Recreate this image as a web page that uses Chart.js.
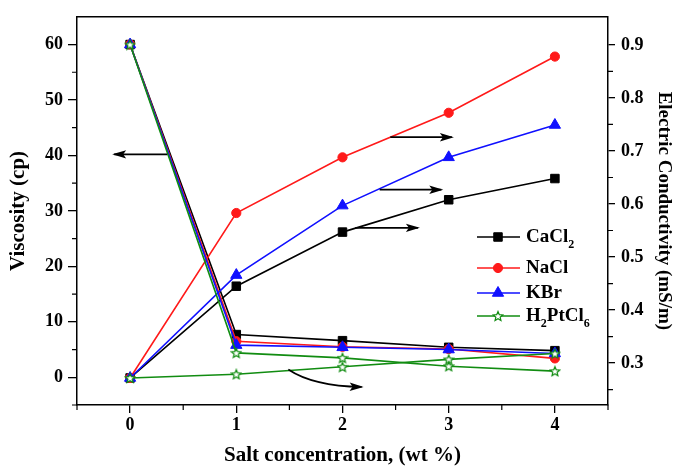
<!DOCTYPE html>
<html>
<head>
<meta charset="utf-8">
<script src="https://cdn.jsdelivr.net/npm/chart.js@4"></script>
<style>
html, body { margin: 0; padding: 0; background: #fff; }
</style>
</head>
<body>
<canvas id="canvas" width="675" height="468"></canvas>
<script>
// data
var concentration = [0, 1, 2, 3, 4];
var viscCaCl2 = [60, 7.7, 6.6, 5.4, 4.8];
var viscNaCl = [60, 6.5, 5.5, 5.1, 3.4];
var viscKBr = [60, 5.8, 5.4, 5.0, 4.3];
var viscH2PtCl6 = [60, 4.4, 3.5, 2.0, 1.1];
var condCaCl2 = [0.272, 0.445, 0.547, 0.608, 0.648];
var condNaCl = [0.272, 0.583, 0.688, 0.772, 0.878];
var condKBr = [0.272, 0.466, 0.597, 0.688, 0.749];
var condH2PtCl6 = [0.272, 0.279, 0.293, 0.307, 0.318];

var xTicks = [0, 1, 2, 3, 4];
var viscTicks = [0, 10, 20, 30, 40, 50, 60];
var condTicks = [0.3, 0.4, 0.5, 0.6, 0.7, 0.8, 0.9];

// arrows that point each group of curves to its axis (data coords)
var arrows = [
  {axis: 'y',  from: [0.35, 40.2], to: [-0.15, 40.2]},
  {axis: 'y1', from: [2.45, 0.726], to: [3.03, 0.726]},
  {axis: 'y1', from: [2.35, 0.627], to: [2.93, 0.627]},
  {axis: 'y1', from: [2.12, 0.555], to: [2.71, 0.555]},
  {axis: 'y1', from: [1.49, 0.288], ctrl: [1.72, 0.257], to: [2.18, 0.255]}
];

var BLACK = '#000000', RED = '#ff1a1a', BLUE = '#1010ff', GREEN = '#118c11';
var SERIF = '"Liberation Serif", "Times New Roman", serif';

function makeStar(size, color) {
  var c = document.createElement('canvas');
  c.width = c.height = size;
  var g = c.getContext('2d');
  var cx = size / 2, cy = size / 2 + 0.5, R = size / 2 - 1, r = R * 0.45;
  g.beginPath();
  for (var i = 0; i < 10; i++) {
    var a = -Math.PI / 2 + i * Math.PI / 5;
    var rad = i % 2 ? r : R;
    g.lineTo(cx + rad * Math.cos(a), cy + rad * Math.sin(a));
  }
  g.closePath();
  g.fillStyle = '#fff';
  g.fill();
  g.strokeStyle = color;
  g.lineWidth = 1.2;
  g.stroke();
  return c;
}
var starImg = makeStar(12, GREEN);

function pts(ys) {
  return concentration.map(function (x, i) { return {x: x, y: ys[i]}; });
}

var salts = [
  {name: [['CaCl', 0], ['2', 1]], color: BLACK, style: 'rect', radius: 6, visc: viscCaCl2, cond: condCaCl2, order: 4},
  {name: [['NaCl', 0]], color: RED, style: 'circle', radius: 4.6, visc: viscNaCl, cond: condNaCl, order: 3},
  {name: [['KBr', 0]], color: BLUE, style: 'triangle', radius: 6.5, visc: viscKBr, cond: condKBr, order: 2},
  {name: [['H', 0], ['2', 1], ['PtCl', 0], ['6', 1]], color: GREEN, style: starImg, radius: 6, visc: viscH2PtCl6, cond: condH2PtCl6, order: 1}
];

var datasets = [];
salts.forEach(function (s) {
  [['y', s.visc], ['y1', s.cond]].forEach(function (p) {
    datasets.push({
      data: pts(p[1]),
      yAxisID: p[0],
      borderColor: s.color,
      backgroundColor: s.color,
      borderWidth: 1.6,
      pointStyle: s.style,
      pointRadius: s.radius,
      pointBorderWidth: 1,
      tension: 0,
      order: s.order
    });
  });
});

var tickFont = {family: SERIF, size: 18, weight: 'bold'};
var titleFont = {family: SERIF, size: 21, weight: 'bold'};

function fixTicks(list) {
  return function (scale) { scale.ticks = list.map(function (v) { return {value: v}; }); };
}

// minor ticks, top frame line, arrows, legend
var decor = {
  id: 'decor',
  afterDraw: function (chart) {
    var ctx = chart.ctx, a = chart.chartArea;
    var sx = chart.scales.x, sy = chart.scales.y, sy1 = chart.scales.y1;
    ctx.save();
    ctx.strokeStyle = BLACK;
    ctx.lineWidth = 1.5;
    ctx.beginPath();
    ctx.moveTo(a.left, a.top); ctx.lineTo(a.right, a.top);
    ctx.stroke();

    ctx.lineWidth = 1.2;
    ctx.beginPath();
    for (var v = -0.5; v <= 4.5; v += 1) {
      var px = sx.getPixelForValue(v);
      ctx.moveTo(px, a.bottom); ctx.lineTo(px, a.bottom + 5);
    }
    for (v = -5; v <= 55; v += 10) {
      var py = sy.getPixelForValue(v);
      ctx.moveTo(a.left, py); ctx.lineTo(a.left - 5, py);
    }
    for (v = 0.25; v <= 0.86; v += 0.1) {
      py = sy1.getPixelForValue(v);
      ctx.moveTo(a.right, py); ctx.lineTo(a.right + 5, py);
    }
    ctx.stroke();

    // arrows
    ctx.lineWidth = 1.7;
    ctx.fillStyle = BLACK;
    arrows.forEach(function (ar) {
      var ys = chart.scales[ar.axis];
      var x0 = sx.getPixelForValue(ar.from[0]), y0 = ys.getPixelForValue(ar.from[1]);
      var x1 = sx.getPixelForValue(ar.to[0]), y1 = ys.getPixelForValue(ar.to[1]);
      var dirx, diry;
      ctx.beginPath();
      ctx.moveTo(x0, y0);
      if (ar.ctrl) {
        var cx = sx.getPixelForValue(ar.ctrl[0]), cy = ys.getPixelForValue(ar.ctrl[1]);
        ctx.quadraticCurveTo(cx, cy, x1, y1);
        dirx = x1 - cx; diry = y1 - cy;
      } else {
        ctx.lineTo(x1, y1);
        dirx = x1 - x0; diry = y1 - y0;
      }
      ctx.stroke();
      var len = Math.sqrt(dirx * dirx + diry * diry);
      dirx /= len; diry /= len;
      var hl = 12, hw = 4.2;
      ctx.beginPath();
      ctx.moveTo(x1 + dirx * 2, y1 + diry * 2);
      ctx.lineTo(x1 - dirx * hl - diry * hw, y1 - diry * hl + dirx * hw);
      ctx.lineTo(x1 - dirx * (hl - 3), y1 - diry * (hl - 3));
      ctx.lineTo(x1 - dirx * hl + diry * hw, y1 - diry * hl - dirx * hw);
      ctx.closePath();
      ctx.fill();
    });

    // legend
    var lx = a.left + 400, rows = [237, 268, 293, 316];
    salts.forEach(function (s, i) {
      var y = rows[i];
      ctx.strokeStyle = s.color;
      ctx.lineWidth = 1.6;
      ctx.beginPath();
      ctx.moveTo(lx, y); ctx.lineTo(lx + 43, y);
      ctx.stroke();
      ctx.fillStyle = s.color;
      ctx.lineWidth = 1;
      Chart.helpers.drawPoint(ctx, {pointStyle: s.style, radius: s.radius, rotation: 0, borderWidth: 1}, lx + 21, y);
      var tx = lx + 49;
      ctx.fillStyle = BLACK;
      ctx.textBaseline = 'middle';
      s.name.forEach(function (part) {
        ctx.font = 'bold ' + (part[1] ? 12 : 19) + 'px ' + SERIF;
        ctx.fillText(part[0], tx, part[1] ? y + 8 : y);
        tx += ctx.measureText(part[0]).width;
      });
    });
    ctx.restore();
  }
};

new Chart(document.getElementById('canvas'), {
  type: 'line',
  data: {datasets: datasets},
  plugins: [decor],
  options: {
    responsive: false,
    animation: false,
    layout: {padding: {top: 12, left: 0, right: 0, bottom: 0}},
    plugins: {legend: {display: false}, tooltip: {enabled: false}},
    scales: {
      x: {
        type: 'linear', min: -0.5, max: 4.5,
        afterBuildTicks: fixTicks(xTicks),
        afterFit: function (s) { s.height = 63; },
        grid: {drawOnChartArea: false, tickLength: 8, color: BLACK, lineWidth: 1.3},
        border: {color: BLACK, width: 1.5},
        ticks: {font: tickFont, color: BLACK, padding: 2, maxRotation: 0},
        title: {display: true, text: 'Salt concentration, (wt %)', font: titleFont, color: BLACK, padding: {top: 0, bottom: 0}}
      },
      y: {
        type: 'linear', position: 'left', min: -5, max: 65,
        afterBuildTicks: fixTicks(viscTicks),
        afterFit: function (s) { s.width = 77; },
        grid: {drawOnChartArea: false, tickLength: 9, color: BLACK, lineWidth: 1.3},
        border: {color: BLACK, width: 1.5},
        ticks: {font: tickFont, color: BLACK, padding: 5},
        title: {display: true, text: 'Viscosity (cp)', font: titleFont, color: BLACK, padding: {top: 6, bottom: 0}}
      },
      y1: {
        type: 'linear', position: 'right', min: 0.221, max: 0.953,
        afterBuildTicks: fixTicks(condTicks),
        afterFit: function (s) { s.width = 67; },
        grid: {drawOnChartArea: false, tickLength: 7, color: BLACK, lineWidth: 1.3},
        border: {color: BLACK, width: 1.5},
        ticks: {font: tickFont, color: BLACK, padding: 6, callback: function (v) { return v.toFixed(1); }},
        title: {display: true, text: 'Electric Conductivity (mS/m)', font: {family: SERIF, size: 19, weight: 'bold'}, color: BLACK, padding: {top: 0, bottom: 0}}
      }
    }
  }
});
</script>
</body>
</html>
